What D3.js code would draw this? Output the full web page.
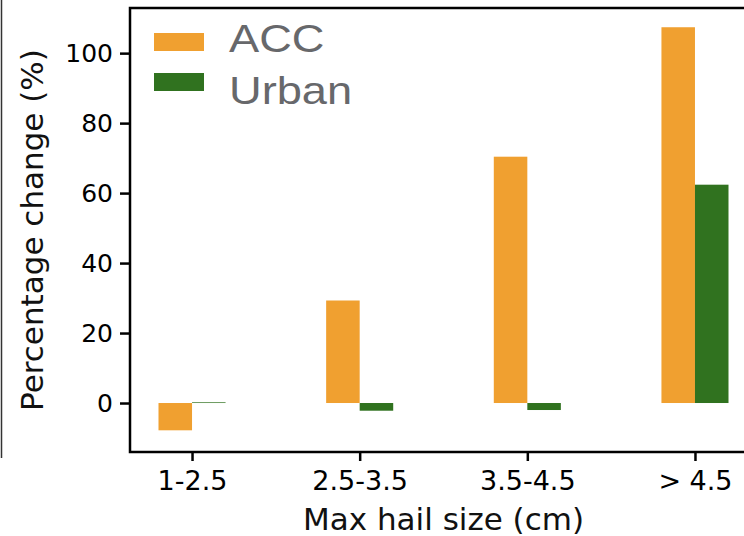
<!DOCTYPE html>
<html lang="en">
  <head>
    <meta charset="UTF-8" />
    <title>Hail size change</title>
    <style>
      body { margin: 0; background: #fff; }
      svg { display: block; }
    </style>
  </head>
  <body>
    <svg id="svg" width="744" height="536"></svg>
    <script src="https://d3js.org/d3.v7.min.js"></script>
    <script>
      // data
      const categories = ["1-2.5", "2.5-3.5", "3.5-4.5", "> 4.5"];
      const accValues = [-7.8, 29.3, 70.4, 107.4];
      const urbanValues = [0.2, -2.2, -2.0, 62.4];
      const yTicks = [0, 20, 40, 60, 80, 100];
      const seriesNames = ["ACC", "Urban"];

      const colors = { ACC: "#f0a030", Urban: "#30721f" };
      const barWidth = 0.2; // in category units, like matplotlib

      // axes box (right edge falls just off the picture)
      const box = { left: 130, right: 757, top: 8, bottom: 452 };

      const svg = d3.select("#svg");

      const xScale = d3
        .scaleLinear()
        .domain([-0.37, categories.length - 1 + 0.37])
        .range([box.left, box.right]);

      const yScale = d3
        .scaleLinear()
        .domain([-14, 112.9])
        .range([box.bottom, box.top]);

      // thin line left over from a neighbouring panel
      svg
        .append("line")
        .attr("x1", 1.5)
        .attr("x2", 1.5)
        .attr("y1", 0)
        .attr("y2", 458)
        .attr("stroke", "#333")
        .attr("stroke-width", 1.5);

      // bars
      const rows = categories.map((c, i) => ({
        i: i,
        ACC: accValues[i],
        Urban: urbanValues[i],
      }));

      const barGroup = svg.append("g");
      seriesNames.forEach((name, s) => {
        barGroup
          .selectAll("rect." + name)
          .data(rows)
          .join("rect")
          .attr("class", name)
          .attr("x", (d) => xScale(d.i + (s === 0 ? -barWidth : 0)))
          .attr("width", xScale(barWidth) - xScale(0))
          .attr("y", (d) => yScale(Math.max(0, d[name])))
          .attr("height", (d) => Math.abs(yScale(d[name]) - yScale(0)))
          .attr("fill", colors[name]);
      });

      // y axis
      const yAxis = d3
        .axisLeft(yScale)
        .tickValues(yTicks)
        .tickSize(10)
        .tickPadding(7)
        .tickSizeOuter(0);
      const gy = svg
        .append("g")
        .attr("transform", `translate(${box.left}, 0)`)
        .call(yAxis);
      gy.select(".domain").remove();
      gy.selectAll(".tick line").attr("stroke", "#000").attr("stroke-width", 2.5);
      gy.selectAll(".tick text")
        .attr("font-family", "DejaVu Sans")
        .attr("font-size", 25)
        .attr("fill", "#000");

      // x axis
      const xAxis = d3
        .axisBottom(xScale)
        .tickValues(d3.range(categories.length))
        .tickFormat((i) => categories[i])
        .tickSize(9)
        .tickPadding(10)
        .tickSizeOuter(0);
      const gx = svg
        .append("g")
        .attr("transform", `translate(0, ${box.bottom})`)
        .call(xAxis);
      gx.select(".domain").remove();
      gx.selectAll(".tick line").attr("stroke", "#000").attr("stroke-width", 2.5);
      gx.selectAll(".tick text")
        .attr("font-family", "DejaVu Sans")
        .attr("font-size", 27)
        .attr("fill", "#000");

      // spines
      svg
        .append("rect")
        .attr("x", box.left)
        .attr("y", box.top)
        .attr("width", box.right - box.left)
        .attr("height", box.bottom - box.top)
        .attr("fill", "none")
        .attr("stroke", "#000")
        .attr("stroke-width", 2.5);

      // axis titles
      svg
        .append("text")
        .attr("transform", `translate(43, ${(box.top + box.bottom) / 2}) rotate(-90)`)
        .attr("text-anchor", "middle")
        .attr("font-family", "DejaVu Sans")
        .attr("font-size", 31)
        .attr("fill", "#111")
        .text("Percentage change (%)");

      svg
        .append("text")
        .attr("x", (box.left + box.right) / 2)
        .attr("y", 530)
        .attr("text-anchor", "middle")
        .attr("font-family", "DejaVu Sans")
        .attr("font-size", 31)
        .attr("fill", "#111")
        .text("Max hail size (cm)");

      // legend
      const legend = svg.append("g").attr("transform", "translate(154, 33)");
      seriesNames.forEach((name, k) => {
        legend
          .append("rect")
          .attr("x", 0)
          .attr("y", k * 40)
          .attr("width", 50)
          .attr("height", 18)
          .attr("fill", colors[name]);
        legend
          .append("text")
          .attr("transform", `translate(75, ${19 + k * 51.6}) scale(1.16, 1)`)
          .attr("font-family", "Liberation Sans, Arial, sans-serif")
          .attr("font-size", 39)
          .attr("fill", "#67686b")
          .text(name);
      });
    </script>
  </body>
</html>
